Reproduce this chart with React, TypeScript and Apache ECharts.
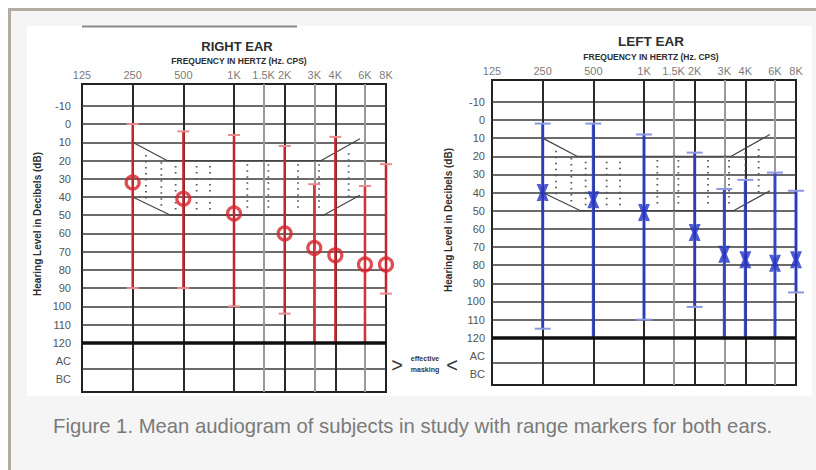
import React, { useEffect, useRef } from 'react';
import * as echarts from 'echarts';

// ---- axis ticks ----
const freqTicks = [125, 250, 500, 1000, 1500, 2000, 3000, 4000, 6000, 8000];
const freqTickLabels = ['125', '250', '500', '1K', '1.5K', '2K', '3K', '4K', '6K', '8K'];
const octaveLines = [250, 500, 1000, 2000, 4000];
const midOctaveLines = [1500, 3000, 6000];
const dbLines = [-10, 0, 10, 20, 30, 40, 50, 60, 70, 80, 90, 100, 110];
const dbHeavyLine = 120;
const acBcDivider = 134;
const dbLabelValues = [-10, 0, 10, 20, 30, 40, 50, 60, 70, 80, 90, 100, 110, 120, 130, 140];
const dbLabelText = ['-10', '0', '10', '20', '30', '40', '50', '60', '70', '80', '90', '100', '110', '120', 'AC', 'BC'];

// ---- data ----
const testFreqs = [250, 500, 1000, 2000, 3000, 4000, 6000, 8000];
const rightMean = [32, 41, 49, 60, 68, 72, 77, 77];
const rightBest = [0, 4, 6, 12, 33, 7, 34, 22];
const rightWorst = [90, 90, 100, 104, 120, 120, 120, 93];
const leftMean = [40, 44, 51, 62, 74, 77, 79, 77];
const leftBest = [2, 2, 8, 18, 38, 33, 29, 39];
const leftWorst = [115, 120, 110, 103, 120, 120, 120, 95];

// ---- speech banana ----
const bananaUpperFreq = [250, 400, 3300, 5600];
const bananaUpperDb = [10, 20, 20, 8];
const bananaLowerFreq = [250, 420, 3400, 5600];
const bananaLowerDb = [40, 50, 50, 39];
const bananaDotFreq = [300, 370, 450, 600, 720, 1000, 1200, 1600, 2400, 3200, 4000, 4800];
const bananaDotTop = [17, 21, 23, 23, 23, 22, 22, 22, 22, 22, 18, 16];
const bananaDotBottom = [41, 46, 48, 48, 48, 48, 48, 48, 48, 48, 45, 40];

const labelMap: Record<number, string> = {};
dbLabelValues.forEach((v, i) => (labelMap[v] = dbLabelText[i]));

const FONT = "'Liberation Sans', Arial, sans-serif";

function buildPanel(idx: number, mean: number[], best: number[], worst: number[], isRight: boolean) {
  const lineColor = isRight ? 'rgba(214,38,44,0.88)' : 'rgba(44,62,192,0.92)';
  const capColor = isRight ? '#ea8b8e' : '#8d98e2';
  const capHalf = isRight ? 6 : 8;
  const markLineData: any[] = [];
  dbLines.forEach((v) => markLineData.push({ yAxis: v, lineStyle: { color: '#3a3a3a', width: 1.6, type: 'solid' } }));
  markLineData.push({ yAxis: acBcDivider, lineStyle: { color: '#3a3a3a', width: 1.6, type: 'solid' } });
  octaveLines.forEach((v) => markLineData.push({ xAxis: v, lineStyle: { color: '#2a2a2a', width: 2, type: 'solid' } }));
  midOctaveLines.forEach((v) => markLineData.push({ xAxis: v, lineStyle: { color: '#9a9a9a', width: 2, type: 'solid' } }));

  const series: any[] = [
    {
      type: 'scatter',
      xAxisIndex: idx,
      yAxisIndex: idx,
      z: 1,
      clip: false,
      symbolSize: 1,
      itemStyle: { color: 'rgba(0,0,0,0)' },
      silent: true,
      data: freqTicks.map((f, i) => ({ value: [f, -22], name: freqTickLabels[i] })),
      label: {
        show: true,
        position: 'top',
        distance: 3,
        formatter: '{b}',
        color: '#555',
        fontSize: 11,
        fontFamily: FONT,
      },
      markLine: {
        silent: true,
        z: 1,
        symbol: ['none', 'none'],
        label: { show: false },
        animation: false,
        data: markLineData,
      },
    },
    {
      type: 'line',
      xAxisIndex: idx,
      yAxisIndex: idx,
      z: 2,
      symbol: 'none',
      silent: true,
      lineStyle: { color: '#444', width: 1.2 },
      data: bananaUpperFreq.map((f, i) => [f, bananaUpperDb[i]]),
    },
    {
      type: 'line',
      xAxisIndex: idx,
      yAxisIndex: idx,
      z: 2,
      symbol: 'none',
      silent: true,
      lineStyle: { color: '#444', width: 1.2 },
      data: bananaLowerFreq.map((f, i) => [f, bananaLowerDb[i]]),
    },
    {
      type: 'custom',
      xAxisIndex: idx,
      yAxisIndex: idx,
      z: 2,
      silent: true,
      encode: { x: 0, y: [1, 2] },
      data: bananaDotFreq.map((f, i) => [f, bananaDotTop[i], bananaDotBottom[i]]),
      renderItem: (params: any, api: any) => {
        const a = api.coord([api.value(0), api.value(1)]);
        const b = api.coord([api.value(0), api.value(2)]);
        return {
          type: 'line',
          shape: { x1: a[0], y1: a[1], x2: b[0], y2: b[1] },
          style: { stroke: '#555', lineWidth: 1.8, lineDash: [1.5, 4.5] },
        };
      },
    },
    {
      type: 'custom',
      xAxisIndex: idx,
      yAxisIndex: idx,
      z: 6,
      silent: true,
      encode: { x: 0, y: [1, 2] },
      data: testFreqs.map((f, i) => [f, best[i], worst[i]]),
      renderItem: (params: any, api: any) => {
        const a = api.coord([api.value(0), api.value(1)]);
        const b = api.coord([api.value(0), api.value(2)]);
        return {
          type: 'group',
          children: [
            { type: 'line', shape: { x1: a[0], y1: a[1], x2: b[0], y2: b[1] }, style: { stroke: lineColor, lineWidth: isRight ? 2.6 : 3 } },
            { type: 'line', shape: { x1: a[0] - capHalf, y1: a[1], x2: a[0] + capHalf, y2: a[1] }, style: { stroke: capColor, lineWidth: 2 } },
            { type: 'line', shape: { x1: b[0] - capHalf, y1: b[1], x2: b[0] + capHalf, y2: b[1] }, style: { stroke: capColor, lineWidth: 2 } },
          ],
        };
      },
    },
    isRight
      ? {
          type: 'scatter',
          xAxisIndex: idx,
          yAxisIndex: idx,
          z: 7,
          symbol: 'circle',
          symbolSize: 13,
          itemStyle: { color: 'rgba(255,255,255,0)', borderColor: '#d4232a', borderWidth: 3.2 },
          data: testFreqs.map((f, i) => [f, mean[i]]),
          markLine: {
            silent: true,
            z: 9,
            symbol: ['none', 'none'],
            label: { show: false },
            animation: false,
            data: [{ yAxis: dbHeavyLine, lineStyle: { color: '#111', width: 3.6, type: 'solid' } }],
          },
        }
      : {
          type: 'scatter',
          xAxisIndex: idx,
          yAxisIndex: idx,
          z: 7,
          symbol: 'path://M0,0L3.4,0L5,6L6.6,0L10,0L7,8L10,16L6.6,16L5,10L3.4,16L0,16L3,8Z',
          symbolSize: [12, 17],
          itemStyle: { color: '#2232c8' },
          data: testFreqs.map((f, i) => [f, mean[i]]),
          markLine: {
            silent: true,
            z: 9,
            symbol: ['none', 'none'],
            label: { show: false },
            animation: false,
            data: [{ yAxis: dbHeavyLine, lineStyle: { color: '#111', width: 3.6, type: 'solid' } }],
          },
        },
  ];
  return series;
}

export default function App() {
  const ref = useRef<HTMLDivElement>(null);
  useEffect(() => {
    if (!ref.current) return;
    const chart = echarts.init(ref.current, undefined, { renderer: 'svg' });
    const yAxisBase = (max: number, margin: number) => ({
      type: 'value',
      inverse: true,
      min: -22,
      max,
      axisLine: { show: false },
      axisTick: { show: false },
      splitLine: { show: false },
      axisLabel: {
        customValues: dbLabelValues,
        formatter: (v: number) => labelMap[v] ?? '',
        color: '#555',
        fontSize: 11,
        fontFamily: FONT,
        margin,
      },
    });
    const xAxisBase = (gridIndex: number) => ({
      type: 'log',
      logBase: 2,
      min: 125,
      max: 8000,
      gridIndex,
      axisLine: { show: false },
      axisTick: { show: false },
      axisLabel: { show: false },
      splitLine: { show: false },
    });
    const titleText = (text: string, x: number, y: number, size: number) => ({
      type: 'text',
      x,
      y,
      z: 10,
      style: { text, fill: '#2e2e2e', font: `bold ${size}px ${FONT}`, textAlign: 'center', textVerticalAlign: 'middle' },
    });
    const option: any = {
      animation: false,
      backgroundColor: '#ffffff',
      grid: [
        { left: 82, top: 84, width: 304, height: 308, show: true, borderColor: '#222', borderWidth: 2, backgroundColor: 'transparent', outerBoundsMode: 'none' },
        { left: 492, top: 80, width: 304, height: 305, show: true, borderColor: '#222', borderWidth: 2, backgroundColor: 'transparent', outerBoundsMode: 'none' },
      ],
      xAxis: [xAxisBase(0), xAxisBase(1)],
      yAxis: [
        { ...yAxisBase(147, 11), gridIndex: 0 },
        { ...yAxisBase(146, 7), gridIndex: 1 },
      ],
      graphic: [
        { type: 'rect', z: -20, silent: true, shape: { x: 8, y: 8, width: 830, height: 480 }, style: { fill: '#b4aba1' } },
        { type: 'rect', z: -19, silent: true, shape: { x: 11, y: 11, width: 830, height: 480 }, style: { fill: '#f5f5f5' } },
        { type: 'rect', z: -18, silent: true, shape: { x: 27, y: 26, width: 785, height: 370 }, style: { fill: '#ffffff' } },
        { type: 'line', z: -17, silent: true, shape: { x1: 82, y1: 26.5, x2: 297, y2: 26.5 }, style: { stroke: '#8a8a8a', lineWidth: 2 } },
        titleText('RIGHT EAR', 237, 46, 13),
        titleText('LEFT EAR', 651, 41, 13.5),
        titleText('FREQUENCY IN HERTZ (Hz. CPS)', 239, 61, 8.5),
        titleText('FREQUENCY IN HERTZ (Hz. CPS)', 651, 57, 8.5),
        {
          type: 'text', x: 37, y: 224, rotation: Math.PI / 2, z: 10,
          style: { text: 'Hearing Level in Decibels (dB)', fill: '#2e2e2e', font: `bold 10px ${FONT}`, textAlign: 'center', textVerticalAlign: 'middle' },
        },
        {
          type: 'text', x: 448, y: 220, rotation: Math.PI / 2, z: 10,
          style: { text: 'Hearing Level in Decibels (dB)', fill: '#2e2e2e', font: `bold 10px ${FONT}`, textAlign: 'center', textVerticalAlign: 'middle' },
        },
        { type: 'text', x: 397, y: 365, z: 10, style: { text: '>', fill: '#333', font: `20px ${FONT}`, textAlign: 'center', textVerticalAlign: 'middle' } },
        { type: 'text', x: 452, y: 365, z: 10, style: { text: '<', fill: '#333', font: `20px ${FONT}`, textAlign: 'center', textVerticalAlign: 'middle' } },
        { type: 'text', x: 425, y: 358, z: 10, style: { text: 'effective', fill: '#333', font: `bold 7px ${FONT}`, textAlign: 'center', textVerticalAlign: 'middle' } },
        { type: 'text', x: 425, y: 369, z: 10, style: { text: 'masking', fill: '#333', font: `bold 7px ${FONT}`, textAlign: 'center', textVerticalAlign: 'middle' } },
        {
          type: 'text', x: 53, y: 426, z: 10,
          style: { text: 'Figure 1. Mean audiogram of subjects in study with range markers for both ears.', fill: '#7a7a7a', font: `20.3px ${FONT}`, textVerticalAlign: 'middle' },
        },
      ],
      series: [
        ...buildPanel(0, rightMean, rightBest, rightWorst, true),
        ...buildPanel(1, leftMean, leftBest, leftWorst, false),
      ],
    };
    chart.setOption(option);
    return () => chart.dispose();
  }, []);
  return <div ref={ref} style={{ position: 'fixed', left: 0, top: 0, width: 816, height: 470 }} />;
}
